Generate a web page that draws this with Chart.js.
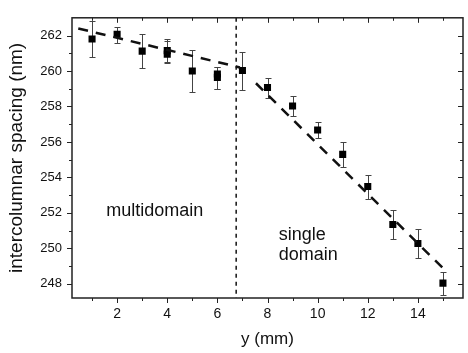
<!DOCTYPE html>
<html>
<head>
<meta charset="utf-8">
<script src="https://cdn.jsdelivr.net/npm/chart.js@4"></script>
<style>
  html, body { margin: 0; padding: 0; background: #fff; }
  #wrap { width: 468px; height: 353px; position: relative; }
</style>
</head>
<body>
<div id="wrap"><canvas id="chart" width="468" height="353"></canvas></div>
<script>
// Data
const posY = [1, 2, 3, 4, 4, 5, 6, 6, 7, 8, 9, 10, 11, 12, 13, 14, 15];
const spacing = [261.8, 262.07, 261.12, 261.15, 260.95, 260.0, 259.83, 259.64, 260.03, 259.07, 258.03, 256.67, 255.3, 253.49, 251.34, 250.27, 248.04];
const errHigh = [262.8, 262.5, 262.09, 261.83, 261.7, 261.18, 260.25, 260.2, 261.07, 259.6, 258.6, 257.1, 256.0, 254.16, 252.16, 251.09, 248.67];
const errLow = [260.8, 261.6, 260.16, 260.45, 260.5, 258.8, 259.0, 258.98, 258.94, 258.5, 257.45, 256.25, 254.6, 252.8, 250.54, 249.45, 247.36];

// dashed fits and the domain boundary
const fitMultiX = [0.45, 6.9];
const fitMultiY = [262.4, 260.2];
const fitSingleX = [7.54, 15.13];
const fitSingleY = [259.31, 248.7];
const boundaryX = [6.75, 6.75];
const boundaryY = [263, 247.2];

const xMajor = [2, 4, 6, 8, 10, 12, 14];
const xMinor = [1, 3, 5, 7, 9, 11, 13, 15];
const yMajor = [248, 250, 252, 254, 256, 258, 260, 262];
const yMinor = [249, 251, 253, 255, 257, 259, 261];

const toPoints = (xs, ys) => xs.map((x, i) => ({ x: x, y: ys[i] }));

const FONT = 'Liberation Sans, Arial, sans-serif';

// error bars, under the markers
const errorBars = {
    id: 'errorBars',
    beforeDatasetsDraw(chart) {
        const ctx = chart.ctx;
        const xs = chart.scales.x, ys = chart.scales.y;
        ctx.save();
        ctx.strokeStyle = '#444';
        ctx.lineWidth = 1;
        posY.forEach((v, i) => {
            const px = Math.round(xs.getPixelForValue(v)) + 0.5;
            const top = Math.round(ys.getPixelForValue(errHigh[i])) + 0.5;
            const bot = Math.round(ys.getPixelForValue(errLow[i])) + 0.5;
            ctx.beginPath();
            ctx.moveTo(px, top); ctx.lineTo(px, bot);
            ctx.moveTo(px - 3, top); ctx.lineTo(px + 3, top);
            ctx.moveTo(px - 3, bot); ctx.lineTo(px + 3, bot);
            ctx.stroke();
        });
        ctx.restore();
    }
};

// Origin style ticks: outside on left/bottom, inside on top/right
const frameTicks = {
    id: 'frameTicks',
    afterDraw(chart) {
        const ctx = chart.ctx;
        const a = chart.chartArea;
        const xs = chart.scales.x, ys = chart.scales.y;
        ctx.save();
        ctx.strokeStyle = '#222';
        ctx.lineWidth = 1.5;
        ctx.strokeRect(a.left, a.top, a.right - a.left, a.bottom - a.top);
        ctx.lineWidth = 1;
        ctx.beginPath();
        const tx = (v, len) => {
            const p = Math.round(xs.getPixelForValue(v)) + 0.5;
            ctx.moveTo(p, a.bottom); ctx.lineTo(p, a.bottom + len);
            ctx.moveTo(p, a.top); ctx.lineTo(p, a.top + len);
        };
        const ty = (v, len) => {
            const p = Math.round(ys.getPixelForValue(v)) + 0.5;
            ctx.moveTo(a.left, p); ctx.lineTo(a.left - len, p);
            ctx.moveTo(a.right, p); ctx.lineTo(a.right - len, p);
        };
        xMajor.forEach(v => tx(v, 5));
        xMinor.forEach(v => tx(v, 3));
        yMajor.forEach(v => ty(v, 5));
        yMinor.forEach(v => ty(v, 3));
        ctx.stroke();

        ctx.fillStyle = '#111';
        ctx.font = '18px ' + FONT;
        ctx.textAlign = 'center';
        ctx.textBaseline = 'middle';
        ctx.fillText('multidomain', xs.getPixelForValue(3.5), ys.getPixelForValue(252.1));
        ctx.textAlign = 'left';
        ctx.fillText('single', xs.getPixelForValue(8.45), ys.getPixelForValue(250.75));
        ctx.fillText('domain', xs.getPixelForValue(8.45), ys.getPixelForValue(249.6));
        ctx.restore();
    }
};

new Chart(document.getElementById('chart'), {
    type: 'scatter',
    data: {
        datasets: [
            {
                label: 'boundary',
                data: toPoints(boundaryX, boundaryY),
                showLine: true,
                borderColor: '#111',
                borderWidth: 1.5,
                borderDash: [4, 4],
                pointRadius: 0
            },
            {
                label: 'fit multidomain',
                data: toPoints(fitMultiX, fitMultiY),
                showLine: true,
                borderColor: '#111',
                borderWidth: 2.5,
                borderDash: [10, 8],
                pointRadius: 0
            },
            {
                label: 'fit single domain',
                data: toPoints(fitSingleX, fitSingleY),
                showLine: true,
                borderColor: '#111',
                borderWidth: 2.5,
                borderDash: [10, 8],
                pointRadius: 0
            },
            {
                label: 'spacing',
                data: toPoints(posY, spacing),
                pointStyle: 'rect',
                pointRadius: 5,
                backgroundColor: '#000',
                borderColor: '#000',
                borderWidth: 0
            }
        ]
    },
    options: {
        responsive: false,
        animation: false,
        layout: { padding: { top: 8, right: 1, left: 0, bottom: 0 } },
        plugins: { legend: { display: false }, tooltip: { enabled: false } },
        scales: {
            x: {
                type: 'linear',
                min: 0.2,
                max: 15.8,
                afterFit: s => { s.height = 55; },
                afterBuildTicks: s => { s.ticks = xMajor.map(v => ({ value: v })); },
                grid: { display: false, drawTicks: false },
                border: { display: false },
                ticks: { color: '#111', font: { family: FONT, size: 14 }, padding: 8 },
                title: { display: true, text: 'y (mm)', color: '#111', font: { family: FONT, size: 17 }, padding: { top: 0, bottom: 3 } }
            },
            y: {
                min: 247.2,
                max: 263,
                afterFit: s => { s.width = 72; },
                afterBuildTicks: s => { s.ticks = yMajor.map(v => ({ value: v })); },
                grid: { display: false, drawTicks: false },
                border: { display: false },
                ticks: { color: '#111', font: { family: FONT, size: 13 }, padding: 10 },
                title: { display: true, text: 'intercolumnar spacing (nm)', color: '#111', font: { family: FONT, size: 19 }, padding: { top: 5, bottom: 0 } }
            }
        }
    },
    plugins: [errorBars, frameTicks]
});
</script>
</body>
</html>
